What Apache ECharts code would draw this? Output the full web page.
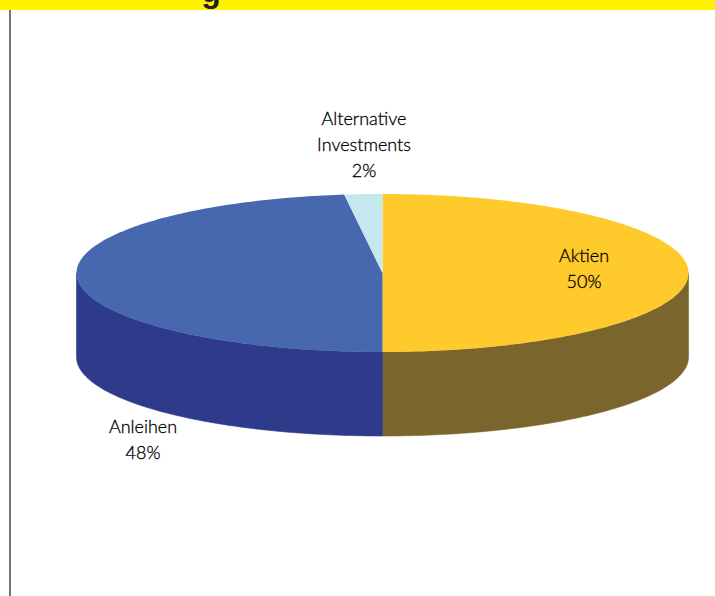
<!DOCTYPE html>
<html>
<head>
<meta charset="utf-8">
<style>html,body{margin:0;padding:0;background:#fff}#chart{width:715px;height:596px;font-variant-ligatures:none}</style>
<script src="https://cdn.jsdelivr.net/npm/echarts@6/dist/echarts.min.js"></script>
</head>
<body>
<div id="chart"></div>
<script>
// Asset allocation, drawn as a tilted disc
const categories = ['Aktien', 'Anleihen', 'Alternative\nInvestments'];
const shares = [50, 48, 2];
const topColors = ['#FFCA2C', '#4767AF', '#C5E8EF'];
const wallColors = ['#7A652C', '#2E3B8B', '#8FA8AE'];
const labelCentres = [[584, 267.5], [143, 439], [364, 144]];

// Disc geometry in pixels
const CX = 382.5, CY = 273, RX = 306, RY = 79, DEPTH = 84;
const total = shares.reduce((a, b) => a + b, 0);

// Clock angle in degrees (0 = top, clockwise) to a point on the rim
function rim(deg, dy) {
  const t = deg * Math.PI / 180;
  return [CX + RX * Math.sin(t), CY - RY * Math.cos(t) + (dy || 0)];
}

function renderSlice(params, api) {
  const i = params.dataIndex;
  let from = 0;
  for (let k = 0; k < i; k++) from += shares[k];
  const start = from / total * 360;
  const end = (from + api.value(0)) / total * 360;

  const children = [];

  // Only the front half of the wall faces the viewer
  const wStart = Math.max(start, 90), wEnd = Math.min(end, 270);
  if (wEnd > wStart) {
    const upper = [], lower = [];
    for (let a = wStart; a < wEnd; a += 1) {
      upper.push(rim(a));
      lower.unshift(rim(a, DEPTH));
    }
    upper.push(rim(wEnd));
    lower.unshift(rim(wEnd, DEPTH));
    children.push({
      type: 'polygon',
      shape: { points: upper.concat(lower) },
      // A hairline in the fill colour closes the seam between neighbouring walls
      style: { fill: wallColors[i], stroke: wallColors[i], lineWidth: 0.6 }
    });
  }

  const top = [[CX, CY]];
  for (let a = start; a < end; a += 1) top.push(rim(a));
  top.push(rim(end));
  children.push({
    type: 'polygon',
    shape: { points: top },
    style: { fill: topColors[i] }
  });

  children.push({
    type: 'text',
    z2: 10,
    style: {
      x: labelCentres[i][0],
      y: labelCentres[i][1],
      text: categories[i] + '\n' + api.value(0) + '%',
      align: 'center',
      verticalAlign: 'middle',
      lineHeight: 26,
      font: '300 18px Lato',
      fill: '#000000',
      stroke: '#000000',
      lineWidth: 0.3
    }
  });

  return { type: 'group', children: children };
}

// SVG output keeps the labels as text nodes that follow the page's ligature setting
const chart = echarts.init(document.getElementById('chart'), null, { renderer: 'svg' });
chart.setOption({
  animation: false,
  backgroundColor: '#ffffff',
  graphic: [
    { type: 'rect', z: 0, shape: { x: 0, y: 0, width: 715, height: 10 }, style: { fill: '#FFF200' } },
    { type: 'text', z: 1, style: { x: 211, y: -25, text: 'g', align: 'center', verticalAlign: 'top', font: 'bold 32px "Liberation Sans"', fill: '#231F20' } },
    { type: 'line', z: 0, shape: { x1: 10, y1: 10, x2: 10, y2: 596 }, style: { stroke: '#444444', lineWidth: 1.5 } }
  ],
  series: [{
    type: 'custom',
    coordinateSystem: 'none',
    renderItem: renderSlice,
    silent: true,
    data: shares.map(v => [v])
  }]
});
</script>
</body>
</html>
